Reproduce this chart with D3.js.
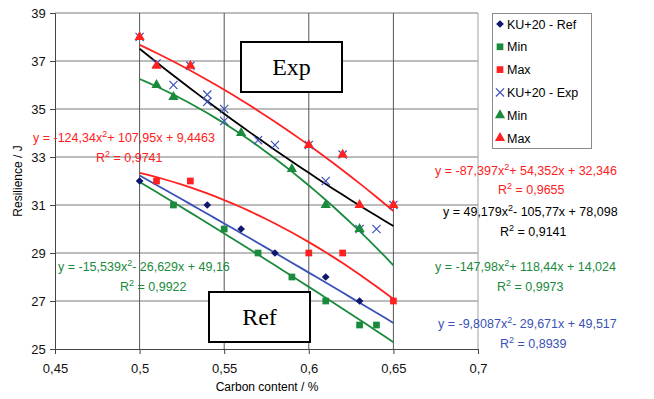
<!DOCTYPE html>
<html>
<head>
<meta charset="utf-8">
<script src="https://cdn.jsdelivr.net/npm/d3@7"></script>
<style>
  body { margin: 0; background: #fff; }
  text { font-family: "Liberation Sans", Arial, sans-serif; }
</style>
</head>
<body>
<script>
// chart size
var width = 654;
var height = 399;

// axis ticks
var xTicks = [0.45, 0.5, 0.55, 0.6, 0.65, 0.7];
var yTicks = [25, 27, 29, 31, 33, 35, 37, 39];

// measured points [carbon, resilience]
var refMean = [[0.5, 32], [0.54, 31], [0.56, 30], [0.58, 29], [0.61, 28], [0.63, 27]];
var refMin = [[0.52, 31], [0.55, 30], [0.57, 29], [0.59, 28], [0.61, 27], [0.63, 26], [0.64, 26]];
var refMax = [[0.51, 32], [0.53, 32], [0.6, 29], [0.62, 29], [0.65, 27]];
var expMean = [[0.5, 38], [0.51, 36.9], [0.52, 36], [0.53, 36.8], [0.54, 35.6], [0.54, 35.3], [0.55, 35],
               [0.55, 34.5], [0.57, 33.7], [0.58, 33.5], [0.6, 33.5], [0.62, 33.1], [0.61, 32],
               [0.63, 30], [0.64, 30], [0.65, 31]];
var expMin = [[0.51, 36], [0.52, 35.5], [0.56, 34], [0.59, 32.5], [0.61, 31], [0.63, 30]];
var expMax = [[0.5, 38], [0.51, 36.8], [0.53, 36.8], [0.6, 33.5], [0.62, 33.1], [0.63, 31], [0.65, 31]];

// polynomial trendline coefficients printed on the chart [a, b, c] -> a*x^2 + b*x + c
var trendRefMax = [-124.34, 107.95, 9.4463];
var trendExpMax = [-87.397, 54.352, 32.346];
var trendExpMean = [49.179, -105.77, 78.098];
var trendExpMin = [-147.98, 118.44, 14.024];
var trendRefMin = [-15.539, -26.629, 49.16];
var trendRefMean = [-9.8087, -29.671, 49.517];
var trendRange = [0.5, 0.65];

// legend labels
var legendLabels = ["KU+20 - Ref", "Min", "Max", "KU+20 - Exp", "Min", "Max"];

// colours
var navy = "#10186e", green = "#1a8a3c", red = "#ff2020", blue = "#3a52b8";

var svg = d3.select("body").append("svg")
    .attr("width", width)
    .attr("height", height);

var x = d3.scaleLinear().domain([0.45, 0.7]).range([55, 478]);
var y = d3.scaleLinear().domain([25, 39]).range([349, 13]);

// ----------------------------------------------------------- //
// grid
svg.append("g").selectAll("line.h")
  .data(yTicks.slice(1))
  .join("line")
    .attr("x1", x(0.45)).attr("x2", x(0.7))
    .attr("y1", d => y(d)).attr("y2", d => y(d))
    .attr("stroke", "#7a7a7a").attr("stroke-width", 1);

svg.append("g").selectAll("line.v")
  .data(xTicks.slice(1))
  .join("line")
    .attr("x1", d => x(d)).attr("x2", d => x(d))
    .attr("y1", y(25)).attr("y2", y(39))
    .attr("stroke", d => d === 0.7 ? "#a0a0a0" : "#555").attr("stroke-width", 1);

// axes
var xAxis = svg.append("g")
    .attr("transform", `translate(0,${y(25)})`)
    .call(d3.axisBottom(x).tickValues(xTicks).tickSize(5)
      .tickFormat(d => d3.format(".2~f")(d).replace(".", ",")));
var yAxis = svg.append("g")
    .attr("transform", `translate(${x(0.45)},0)`)
    .call(d3.axisLeft(y).tickValues(yTicks).tickSize(5));

[xAxis, yAxis].forEach(a => {
  a.select(".domain").attr("stroke", "#444");
  a.selectAll(".tick line").attr("stroke", "#444");
  a.selectAll("text").attr("font-size", 13).attr("fill", "#111")
    .style("font-family", "Liberation Sans, Arial, sans-serif");
});
xAxis.selectAll("text").attr("dy", "1.2em");
yAxis.selectAll("text").attr("dx", "-0.1em");

svg.append("text")
  .attr("x", 267).attr("y", 391)
  .attr("text-anchor", "middle").attr("font-size", 12)
  .text("Carbon content / %");

svg.append("text")
  .attr("transform", "translate(22,181) rotate(-90)")
  .attr("text-anchor", "middle").attr("font-size", 12)
  .text("Resilience /  J");

// ----------------------------------------------------------- //
// trendlines
var line = d3.line().x(d => x(d[0])).y(d => y(d[1]));
function curve(c) {
  return d3.range(trendRange[0], trendRange[1] + 0.0001, 0.005)
    .map(v => [v, c[0] * v * v + c[1] * v + c[2]]);
}
[[trendRefMean, blue], [trendRefMin, green], [trendRefMax, red],
 [trendExpMean, "#000"], [trendExpMin, green], [trendExpMax, red]].forEach(t => {
  svg.append("path")
    .attr("d", line(curve(t[0])))
    .attr("fill", "none").attr("stroke", t[1]).attr("stroke-width", 1.8);
});

// ----------------------------------------------------------- //
// markers
var sym = {
  diamond: d3.symbol().type(d3.symbolSquare).size(30),
  square: d3.symbol().type(d3.symbolSquare).size(45),
  triangle: d3.symbol().type(d3.symbolTriangle).size(45),
  cross: d3.symbol().type(d3.symbolX).size(45)
};
var series = [
  {data: refMean, shape: "diamond", color: navy},
  {data: refMin, shape: "square", color: green},
  {data: refMax, shape: "square", color: red},
  {data: expMean, shape: "cross", color: blue},
  {data: expMin, shape: "triangle", color: green},
  {data: expMax, shape: "triangle", color: red}
];

function drawMarker(sel, s) {
  sel.attr("d", sym[s.shape]());
  if (s.shape === "diamond") {
    sel.attr("transform", function() { return d3.select(this).attr("transform") + " rotate(45)"; });
  }
  if (s.shape === "cross") {
    sel.attr("fill", "none").attr("stroke", s.color).attr("stroke-width", 1.2);
  } else {
    sel.attr("fill", s.color);
  }
}

series.forEach(s => {
  svg.append("g").selectAll("path")
    .data(s.data)
    .join("path")
      .attr("transform", d => `translate(${x(d[0])},${y(d[1])})`)
      .call(drawMarker, s);
});

// ----------------------------------------------------------- //
// legend
var legend = svg.append("g");
legend.append("rect")
  .attr("x", 492.5).attr("y", 13.5).attr("width", 99).attr("height", 135)
  .attr("fill", "#fff").attr("stroke", "#8a8a8a");
legendLabels.forEach((lab, i) => {
  var ly = 24 + i * 22.8;
  legend.append("path")
    .attr("transform", `translate(500,${ly})`)
    .call(drawMarker, series[i]);
  legend.append("text")
    .attr("x", 507).attr("y", ly + 4.5)
    .attr("font-size", 12.5)
    .text(lab);
});

// ----------------------------------------------------------- //
// labelled boxes
[["Exp", 241, 42, 101, 50], ["Ref", 209, 292, 101, 50]].forEach(b => {
  svg.append("rect")
    .attr("x", b[1]).attr("y", b[2]).attr("width", b[3]).attr("height", b[4])
    .attr("fill", "#fff").attr("stroke", "#000").attr("stroke-width", 2);
  svg.append("text")
    .attr("x", b[1] + b[3] / 2).attr("y", b[2] + b[4] / 2 + 8)
    .attr("text-anchor", "middle")
    .style("font-family", "'Liberation Serif', 'Times New Roman', serif")
    .attr("font-size", 24)
    .text(b[0]);
});

// ----------------------------------------------------------- //
// equations
function fmt(v) { return d3.format("")(Math.abs(v)).replace(".", ","); }
function equation(c, cx, cy, r2, rx, ry, color) {
  var t = svg.append("text").attr("x", cx).attr("y", cy)
    .attr("font-size", 12.5).attr("fill", color);
  t.append("tspan").text(`y = ${c[0] < 0 ? "-" : ""}${fmt(c[0])}x`);
  t.append("tspan").attr("dy", -5).attr("font-size", 9).text("2");
  t.append("tspan").attr("dy", 5).text(`${c[1] < 0 ? "- " : "+ "}${fmt(c[1])}x + ${fmt(c[2])}`);
  var r = svg.append("text").attr("x", rx).attr("y", ry)
    .attr("font-size", 12.5).attr("fill", color);
  r.append("tspan").text("R");
  r.append("tspan").attr("dy", -5).attr("font-size", 9).text("2");
  r.append("tspan").attr("dy", 5).text(" = " + r2);
}
equation(trendRefMax, 33, 142, "0,9741", 96, 162, red);
equation(trendExpMax, 435, 175, "0,9655", 498, 194, red);
equation(trendExpMean, 443, 216, "0,9141", 500, 236, "#000");
equation(trendExpMin, 435, 271, "0,9973", 497, 291, green);
equation(trendRefMin, 58, 271, "0,9922", 120, 291, green);
equation(trendRefMean, 438, 328, "0,8939", 500, 348, blue);
</script>
</body>
</html>
